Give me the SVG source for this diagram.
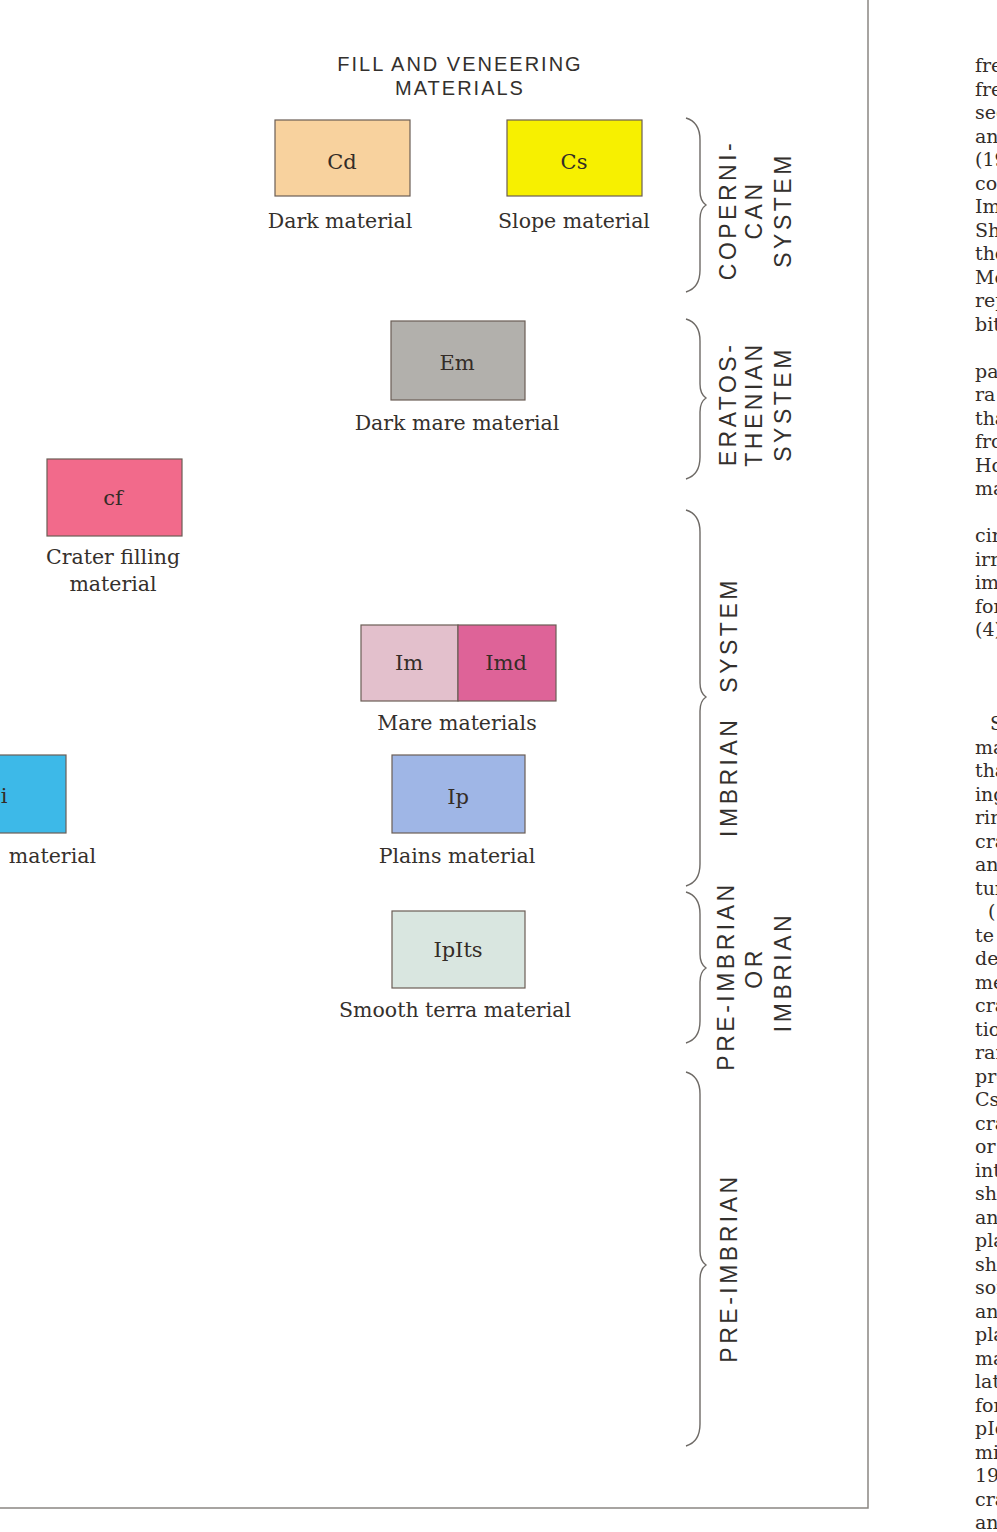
<svg xmlns="http://www.w3.org/2000/svg" width="997" height="1532" viewBox="0 0 997 1532">
<style>
.bg{fill:#ffffff}
.frame{stroke:#8a8682;stroke-width:1.5;fill:none}
.box{stroke:#6b5e55;stroke-width:1.2}
.code{font-family:"DejaVu Serif","Liberation Serif",serif;font-size:21px;fill:#342c27;text-anchor:middle}
.lbl{font-family:"DejaVu Serif","Liberation Serif",serif;font-size:20.5px;fill:#35302c;text-anchor:middle}
.title{font-family:"Liberation Sans","DejaVu Sans",sans-serif;font-size:20px;letter-spacing:2px;fill:#33302d;text-anchor:middle}
.vt{font-family:"Liberation Sans","DejaVu Sans",sans-serif;font-size:23px;letter-spacing:3.5px;fill:#33302d;text-anchor:middle}
.brace{stroke:#6e6a66;stroke-width:1.4;fill:none}
.col{font-family:"DejaVu Serif","Liberation Serif",serif;font-size:19px;fill:#332d29}
</style>
<rect class="bg" x="0" y="0" width="997" height="1532"/>
<g id="frame">
<path class="frame" d="M868 0 V1508 H0"/>
</g>
<g id="title">
<text class="title" x="460" y="71">FILL AND VENEERING</text>
<text class="title" x="460" y="95">MATERIALS</text>
</g>
<g id="node-Cd">
<rect class="box" x="275" y="120" width="135" height="76" fill="#f8d29e"/>
<text class="code" x="342" y="169">Cd</text>
<text class="lbl" x="340" y="228">Dark material</text>
</g>
<g id="node-Cs">
<rect class="box" x="507" y="120" width="135" height="76" fill="#f7f000"/>
<text class="code" x="574" y="169">Cs</text>
<text class="lbl" x="574" y="228">Slope material</text>
</g>
<g id="node-Em">
<rect class="box" x="391" y="321" width="134" height="79" fill="#b2b0ac"/>
<text class="code" x="457" y="370">Em</text>
<text class="lbl" x="457" y="430">Dark mare material</text>
</g>
<g id="node-cf">
<rect class="box" x="47" y="459" width="135" height="77" fill="#f26a8b"/>
<text class="code" x="113" y="505">cf</text>
<text class="lbl" x="113" y="564">Crater filling</text>
<text class="lbl" x="113" y="591">material</text>
</g>
<g id="node-Im">
<rect class="box" x="361" y="625" width="97" height="76" fill="#e3c0cc"/>
<text class="code" x="409" y="670">Im</text>
</g>
<g id="node-Imd">
<rect class="box" x="458" y="625" width="98" height="76" fill="#de6398"/>
<text class="code" x="506" y="670">Imd</text>
<text class="lbl" x="457" y="730">Mare materials</text>
</g>
<g id="node-i">
<rect class="box" x="-5" y="755" width="71" height="78" fill="#3db9e8"/>
<text class="code" x="4" y="803">i</text>
<text class="lbl" x="96" y="863" style="text-anchor:end">material</text>
</g>
<g id="node-Ip">
<rect class="box" x="392" y="755" width="133" height="78" fill="#9fb6e6"/>
<text class="code" x="458" y="804">Ip</text>
<text class="lbl" x="457" y="863">Plains material</text>
</g>
<g id="node-IpIts">
<rect class="box" x="392" y="911" width="133" height="77" fill="#d9e6e0"/>
<text class="code" x="458" y="957">IpIts</text>
<text class="lbl" x="455" y="1017">Smooth terra material</text>
</g>
<g id="connectors">
<path class="brace" d="M686 118 C696 121 700 128 700 140 L700 191 C700 199 703 203 706 205 C703 207 700 211 700 219 L700 270 C700 282 696 289 686 292"/>
<path class="brace" d="M686 319 C696 322 700 329 700 341 L700 384 C700 392 703 396 706 398 C703 400 700 404 700 412 L700 457 C700 469 696 476 686 479"/>
<path class="brace" d="M686 510 C696 513 700 520 700 532 L700 683 C700 691 703 695 706 697 C703 699 700 703 700 711 L700 864 C700 876 696 883 686 886"/>
<path class="brace" d="M686 892 C696 895 700 902 700 914 L700 954 C700 962 703 966 706 968 C703 970 700 974 700 982 L700 1021 C700 1033 696 1040 686 1043"/>
<path class="brace" d="M686 1072 C696 1075 700 1082 700 1094 L700 1251 C700 1259 703 1263 706 1265 C703 1267 700 1271 700 1279 L700 1424 C700 1436 696 1443 686 1446"/>
</g>
<g id="label-copernican">
<text class="vt" transform="translate(736 210) rotate(-90)">COPERNI-</text>
<text class="vt" transform="translate(762 210) rotate(-90)">CAN</text>
<text class="vt" transform="translate(791 210) rotate(-90)">SYSTEM</text>
</g>
<g id="label-eratosthenian">
<text class="vt" transform="translate(736 404) rotate(-90)">ERATOS-</text>
<text class="vt" transform="translate(762 404) rotate(-90)">THENIAN</text>
<text class="vt" transform="translate(791 404) rotate(-90)">SYSTEM</text>
</g>
<g id="label-imbrian">
<text class="vt" transform="translate(737 707) rotate(-90)" style="word-spacing:14px">IMBRIAN SYSTEM</text>
</g>
<g id="label-pre-or-imbrian">
<text class="vt" transform="translate(734 976) rotate(-90)">PRE-IMBRIAN</text>
<text class="vt" transform="translate(762 968) rotate(-90)">OR</text>
<text class="vt" transform="translate(791 972) rotate(-90)">IMBRIAN</text>
</g>
<g id="label-pre-imbrian">
<text class="vt" transform="translate(737 1268) rotate(-90)">PRE-IMBRIAN</text>
</g>
<g id="text-column">
<text class="col" x="975" y="72">fre</text>
<text class="col" x="975" y="95.5">fre</text>
<text class="col" x="975" y="119">sec</text>
<text class="col" x="975" y="142.5">an</text>
<text class="col" x="975" y="166">(19</text>
<text class="col" x="975" y="189.5">co</text>
<text class="col" x="975" y="213">Im</text>
<text class="col" x="975" y="236.5">Sh</text>
<text class="col" x="975" y="260">the</text>
<text class="col" x="975" y="283.5">Me</text>
<text class="col" x="975" y="307">rep</text>
<text class="col" x="975" y="330.5">bit</text>
<text class="col" x="975" y="377.5">pa</text>
<text class="col" x="975" y="401">ra</text>
<text class="col" x="975" y="424.5">tha</text>
<text class="col" x="975" y="448">fro</text>
<text class="col" x="975" y="471.5">Ho</text>
<text class="col" x="975" y="495">ma</text>
<text class="col" x="975" y="542">cir</text>
<text class="col" x="975" y="565.5">irr</text>
<text class="col" x="975" y="589">im</text>
<text class="col" x="975" y="612.5">for</text>
<text class="col" x="975" y="636">(4)</text>
<text class="col" x="990" y="730">S</text>
<text class="col" x="975" y="753.5">ma</text>
<text class="col" x="975" y="777">tha</text>
<text class="col" x="975" y="800.5">ing</text>
<text class="col" x="975" y="824">rin</text>
<text class="col" x="975" y="847.5">cra</text>
<text class="col" x="975" y="871">an</text>
<text class="col" x="975" y="894.5">tur</text>
<text class="col" x="988" y="918">(</text>
<text class="col" x="975" y="941.5">te</text>
<text class="col" x="975" y="965">de</text>
<text class="col" x="975" y="988.5">me</text>
<text class="col" x="975" y="1012">cra</text>
<text class="col" x="975" y="1035.5">tio</text>
<text class="col" x="975" y="1059">ran</text>
<text class="col" x="975" y="1082.5">pre</text>
<text class="col" x="975" y="1106">Cs</text>
<text class="col" x="975" y="1129.5">cra</text>
<text class="col" x="975" y="1153">or</text>
<text class="col" x="975" y="1176.5">int</text>
<text class="col" x="975" y="1200">sho</text>
<text class="col" x="975" y="1223.5">an</text>
<text class="col" x="975" y="1247">pla</text>
<text class="col" x="975" y="1270.5">sha</text>
<text class="col" x="975" y="1294">sor</text>
<text class="col" x="975" y="1317.5">and</text>
<text class="col" x="975" y="1341">pla</text>
<text class="col" x="975" y="1364.5">ma</text>
<text class="col" x="975" y="1388">lat</text>
<text class="col" x="975" y="1411.5">for</text>
<text class="col" x="975" y="1435">pIo</text>
<text class="col" x="975" y="1458.5">mic</text>
<text class="col" x="975" y="1482">197</text>
<text class="col" x="975" y="1505.5">cra</text>
<text class="col" x="975" y="1529">and</text>
</g>
</svg>
